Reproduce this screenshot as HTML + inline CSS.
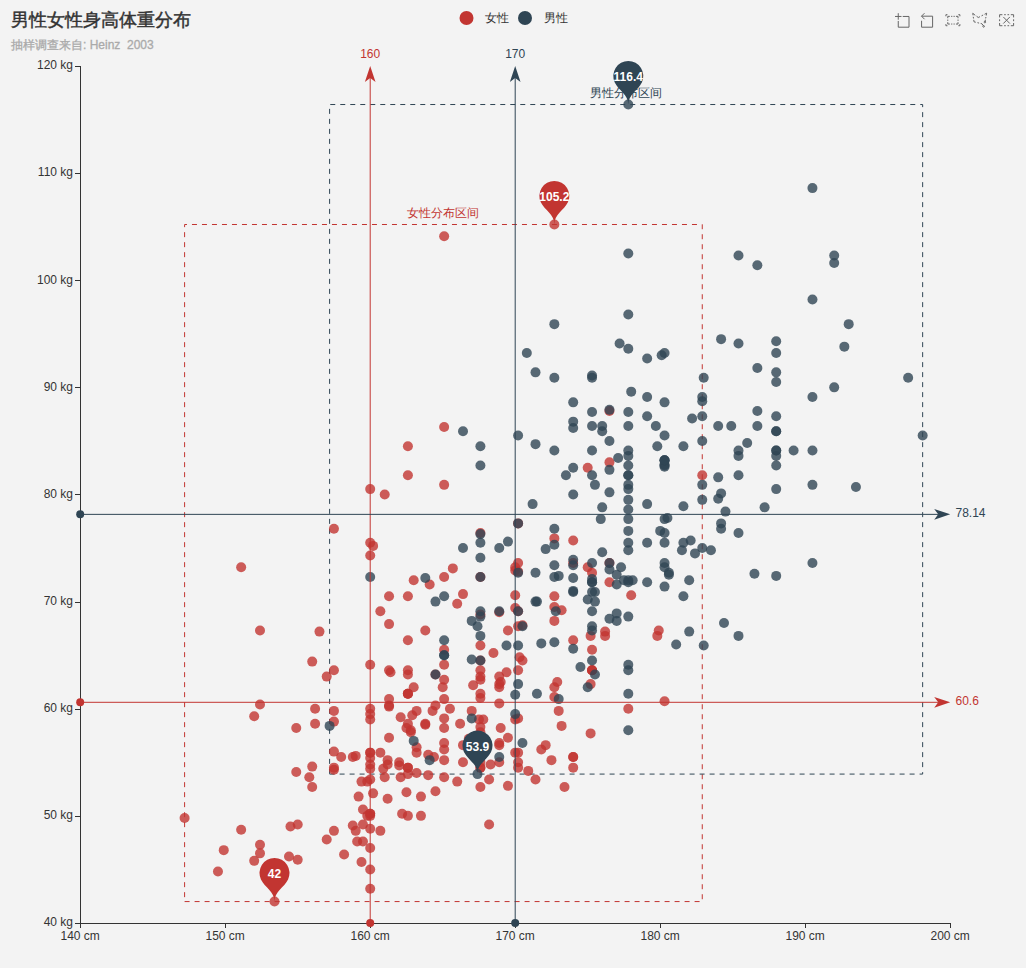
<!DOCTYPE html>
<html><head><meta charset="utf-8"><style>
html,body{margin:0;padding:0;background:#f3f3f3;}
body{width:1026px;height:968px;overflow:hidden;position:relative;font-family:"Liberation Sans", sans-serif;}
svg{position:absolute;left:0;top:0;}
</style></head><body>
<svg width="1026" height="968" viewBox="0 0 1026 968" font-family='"Liberation Sans", sans-serif'>
<text x="11" y="26" font-size="18" fill="#333" stroke="#333" stroke-width="0.45">男性女性身高体重分布</text>
<text x="11" y="49" font-size="12" fill="#aaa" stroke="#aaa" stroke-width="0.3">抽样调查来自: Heinz&#160; 2003</text>
<circle cx="466.5" cy="18" r="7" fill="#c23531"/>
<text x="485" y="21.5" font-size="12" fill="#333">女性</text>
<circle cx="525" cy="18" r="7" fill="#2f4554"/>
<text x="544" y="21.5" font-size="12" fill="#333">男性</text>
<path d="M184.6,901.57 L702.25,901.57 L702.25,224.51 L184.6,224.51 Z" fill="none" stroke="#c23531" stroke-width="1" stroke-dasharray="5 5"/>
<text x="443.42" y="216.51" text-anchor="middle" fill="#c23531" font-size="12">女性分布区间</text>
<path d="M329.6,774.09 L922.65,774.09 L922.65,104.53 L329.6,104.53 Z" fill="none" stroke="#2f4554" stroke-width="1" stroke-dasharray="5 5"/>
<text x="626.12" y="96.53" text-anchor="middle" fill="#2f4554" font-size="12">男性分布区间</text>
<g stroke="#333" stroke-width="1" fill="none">
<path d="M80.5,66 V924 M80,923.5 H951"/>
<path d="M75,923.5 H80.5"/>
<path d="M75,816.5 H80.5"/>
<path d="M75,709.5 H80.5"/>
<path d="M75,602.5 H80.5"/>
<path d="M75,494.5 H80.5"/>
<path d="M75,387.5 H80.5"/>
<path d="M75,280.5 H80.5"/>
<path d="M75,173.5 H80.5"/>
<path d="M75,66.5 H80.5"/>
<path d="M80.5,923.5 V928"/>
<path d="M225.5,923.5 V928"/>
<path d="M370.5,923.5 V928"/>
<path d="M515.5,923.5 V928"/>
<path d="M660.5,923.5 V928"/>
<path d="M805.5,923.5 V928"/>
<path d="M950.5,923.5 V928"/>
</g>
<g fill="#333" font-size="12">
<text x="73" y="926.4" text-anchor="end">40 kg</text>
<text x="73" y="819.27" text-anchor="end">50 kg</text>
<text x="73" y="712.14" text-anchor="end">60 kg</text>
<text x="73" y="605.01" text-anchor="end">70 kg</text>
<text x="73" y="497.88" text-anchor="end">80 kg</text>
<text x="73" y="390.75" text-anchor="end">90 kg</text>
<text x="73" y="283.62" text-anchor="end">100 kg</text>
<text x="73" y="176.49" text-anchor="end">110 kg</text>
<text x="73" y="69.36" text-anchor="end">120 kg</text>
<text x="80.2" y="940" text-anchor="middle">140 cm</text>
<text x="225.2" y="940" text-anchor="middle">150 cm</text>
<text x="370.2" y="940" text-anchor="middle">160 cm</text>
<text x="515.2" y="940" text-anchor="middle">170 cm</text>
<text x="660.2" y="940" text-anchor="middle">180 cm</text>
<text x="805.2" y="940" text-anchor="middle">190 cm</text>
<text x="950.2" y="940" text-anchor="middle">200 cm</text>
</g>
<g fill="#c23531" fill-opacity="0.8">
<circle cx="387.6" cy="798.73" r="5"/>
<circle cx="478.95" cy="719.45" r="5"/>
<circle cx="362.95" cy="824.44" r="5"/>
<circle cx="326.7" cy="676.6" r="5"/>
<circle cx="309.3" cy="777.3" r="5"/>
<circle cx="515.2" cy="719.45" r="5"/>
<circle cx="357.15" cy="841.58" r="5"/>
<circle cx="457.2" cy="603.75" r="5"/>
<circle cx="605.1" cy="635.89" r="5"/>
<circle cx="373.1" cy="545.9" r="5"/>
<circle cx="551.45" cy="760.16" r="5"/>
<circle cx="528.25" cy="770.88" r="5"/>
<circle cx="557.25" cy="681.96" r="5"/>
<circle cx="274.5" cy="901.57" r="5"/>
<circle cx="370.2" cy="815.87" r="5"/>
<circle cx="184.6" cy="818.01" r="5"/>
<circle cx="489.1" cy="824.44" r="5"/>
<circle cx="587.7" cy="567.33" r="5"/>
<circle cx="326.7" cy="839.44" r="5"/>
<circle cx="480.4" cy="614.47" r="5"/>
<circle cx="362.95" cy="809.44" r="5"/>
<circle cx="587.7" cy="467.7" r="5"/>
<circle cx="468.8" cy="738.74" r="5"/>
<circle cx="609.45" cy="410.92" r="5"/>
<circle cx="518.1" cy="571.61" r="5"/>
<circle cx="573.2" cy="767.66" r="5"/>
<circle cx="558.7" cy="710.88" r="5"/>
<circle cx="658.75" cy="630.54" r="5"/>
<circle cx="522.45" cy="625.18" r="5"/>
<circle cx="370.2" cy="848.01" r="5"/>
<circle cx="289" cy="856.58" r="5"/>
<circle cx="399.2" cy="762.31" r="5"/>
<circle cx="609.45" cy="462.34" r="5"/>
<circle cx="370.2" cy="768.73" r="5"/>
<circle cx="254.2" cy="860.86" r="5"/>
<circle cx="400.65" cy="777.3" r="5"/>
<circle cx="515.2" cy="567.33" r="5"/>
<circle cx="373.1" cy="793.37" r="5"/>
<circle cx="389.05" cy="624.11" r="5"/>
<circle cx="463" cy="745.16" r="5"/>
<circle cx="499.25" cy="684.1" r="5"/>
<circle cx="425.3" cy="724.81" r="5"/>
<circle cx="480.4" cy="767.66" r="5"/>
<circle cx="370.2" cy="813.73" r="5"/>
<circle cx="389.05" cy="705.53" r="5"/>
<circle cx="480.4" cy="726.95" r="5"/>
<circle cx="444.15" cy="749.45" r="5"/>
<circle cx="370.2" cy="813.73" r="5"/>
<circle cx="515.2" cy="570.54" r="5"/>
<circle cx="333.95" cy="710.88" r="5"/>
<circle cx="480.4" cy="698.03" r="5"/>
<circle cx="380.35" cy="611.25" r="5"/>
<circle cx="416.6" cy="752.66" r="5"/>
<circle cx="260" cy="853.37" r="5"/>
<circle cx="333.95" cy="769.8" r="5"/>
<circle cx="490.55" cy="764.45" r="5"/>
<circle cx="664.55" cy="701.24" r="5"/>
<circle cx="449.95" cy="708.74" r="5"/>
<circle cx="442.7" cy="687.31" r="5"/>
<circle cx="435.45" cy="705.53" r="5"/>
<circle cx="312.2" cy="786.94" r="5"/>
<circle cx="370.2" cy="555.54" r="5"/>
<circle cx="413.7" cy="687.31" r="5"/>
<circle cx="452.85" cy="568.4" r="5"/>
<circle cx="384.7" cy="494.48" r="5"/>
<circle cx="399.2" cy="765.52" r="5"/>
<circle cx="457.2" cy="781.59" r="5"/>
<circle cx="573.2" cy="540.55" r="5"/>
<circle cx="554.35" cy="696.96" r="5"/>
<circle cx="480.4" cy="754.81" r="5"/>
<circle cx="241.15" cy="829.8" r="5"/>
<circle cx="435.45" cy="791.23" r="5"/>
<circle cx="420.95" cy="815.87" r="5"/>
<circle cx="254.2" cy="716.24" r="5"/>
<circle cx="500.7" cy="681.96" r="5"/>
<circle cx="428.2" cy="754.81" r="5"/>
<circle cx="387.6" cy="764.45" r="5"/>
<circle cx="297.7" cy="859.79" r="5"/>
<circle cx="515.2" cy="595.18" r="5"/>
<circle cx="605.1" cy="631.61" r="5"/>
<circle cx="515.2" cy="608.04" r="5"/>
<circle cx="406.45" cy="728.02" r="5"/>
<circle cx="519.55" cy="657.32" r="5"/>
<circle cx="429.65" cy="584.47" r="5"/>
<circle cx="507.95" cy="785.87" r="5"/>
<circle cx="416.6" cy="710.88" r="5"/>
<circle cx="290.45" cy="826.58" r="5"/>
<circle cx="367.3" cy="815.87" r="5"/>
<circle cx="561.6" cy="610.18" r="5"/>
<circle cx="515.2" cy="752.66" r="5"/>
<circle cx="390.5" cy="672.32" r="5"/>
<circle cx="500.7" cy="728.02" r="5"/>
<circle cx="460.1" cy="723.74" r="5"/>
<circle cx="361.5" cy="861.94" r="5"/>
<circle cx="406.45" cy="792.3" r="5"/>
<circle cx="355.7" cy="830.87" r="5"/>
<circle cx="410.8" cy="732.31" r="5"/>
<circle cx="355.7" cy="755.88" r="5"/>
<circle cx="657.3" cy="635.89" r="5"/>
<circle cx="412.25" cy="715.17" r="5"/>
<circle cx="384.7" cy="777.3" r="5"/>
<circle cx="241.15" cy="567.33" r="5"/>
<circle cx="489.1" cy="779.45" r="5"/>
<circle cx="499.25" cy="612.32" r="5"/>
<circle cx="561.6" cy="725.88" r="5"/>
<circle cx="541.3" cy="749.45" r="5"/>
<circle cx="631.2" cy="595.18" r="5"/>
<circle cx="432.55" cy="710.88" r="5"/>
<circle cx="413.7" cy="580.18" r="5"/>
<circle cx="493.45" cy="653.03" r="5"/>
<circle cx="468.8" cy="745.16" r="5"/>
<circle cx="554.35" cy="224.51" r="5"/>
<circle cx="420.95" cy="796.59" r="5"/>
<circle cx="506.5" cy="672.32" r="5"/>
<circle cx="483.3" cy="719.45" r="5"/>
<circle cx="362.95" cy="841.58" r="5"/>
<circle cx="480.4" cy="676.6" r="5"/>
<circle cx="387.6" cy="760.16" r="5"/>
<circle cx="370.2" cy="869.43" r="5"/>
<circle cx="416.6" cy="773.02" r="5"/>
<circle cx="402.1" cy="813.73" r="5"/>
<circle cx="389.05" cy="706.6" r="5"/>
<circle cx="217.95" cy="871.58" r="5"/>
<circle cx="333.95" cy="721.6" r="5"/>
<circle cx="416.6" cy="747.31" r="5"/>
<circle cx="554.35" cy="687.31" r="5"/>
<circle cx="297.7" cy="824.44" r="5"/>
<circle cx="319.45" cy="631.61" r="5"/>
<circle cx="428.2" cy="775.16" r="5"/>
<circle cx="383.25" cy="768.73" r="5"/>
<circle cx="410.8" cy="730.17" r="5"/>
<circle cx="471.7" cy="710.88" r="5"/>
<circle cx="370.2" cy="764.45" r="5"/>
<circle cx="370.2" cy="888.72" r="5"/>
<circle cx="499.25" cy="703.38" r="5"/>
<circle cx="344.1" cy="854.44" r="5"/>
<circle cx="312.2" cy="661.6" r="5"/>
<circle cx="370.2" cy="828.73" r="5"/>
<circle cx="473.15" cy="685.17" r="5"/>
<circle cx="341.2" cy="756.95" r="5"/>
<circle cx="480.4" cy="732.31" r="5"/>
<circle cx="312.2" cy="766.59" r="5"/>
<circle cx="400.65" cy="717.31" r="5"/>
<circle cx="564.5" cy="786.94" r="5"/>
<circle cx="367.3" cy="781.59" r="5"/>
<circle cx="522.45" cy="660.53" r="5"/>
<circle cx="358.6" cy="796.59" r="5"/>
<circle cx="333.95" cy="751.59" r="5"/>
<circle cx="389.05" cy="670.17" r="5"/>
<circle cx="407.9" cy="674.46" r="5"/>
<circle cx="370.2" cy="714.1" r="5"/>
<circle cx="499.25" cy="743.02" r="5"/>
<circle cx="444.15" cy="664.82" r="5"/>
<circle cx="407.9" cy="815.87" r="5"/>
<circle cx="444.15" cy="576.97" r="5"/>
<circle cx="463" cy="762.31" r="5"/>
<circle cx="370.2" cy="752.66" r="5"/>
<circle cx="260" cy="704.45" r="5"/>
<circle cx="518.1" cy="611.25" r="5"/>
<circle cx="407.9" cy="446.27" r="5"/>
<circle cx="518.1" cy="752.66" r="5"/>
<circle cx="352.8" cy="756.95" r="5"/>
<circle cx="554.35" cy="606.97" r="5"/>
<circle cx="480.4" cy="533.05" r="5"/>
<circle cx="407.9" cy="693.74" r="5"/>
<circle cx="480.4" cy="645.53" r="5"/>
<circle cx="315.1" cy="723.74" r="5"/>
<circle cx="590.6" cy="635.89" r="5"/>
<circle cx="545.65" cy="745.16" r="5"/>
<circle cx="407.9" cy="723.74" r="5"/>
<circle cx="370.2" cy="752.66" r="5"/>
<circle cx="444.15" cy="718.38" r="5"/>
<circle cx="702.25" cy="475.2" r="5"/>
<circle cx="463" cy="594.11" r="5"/>
<circle cx="444.15" cy="743.02" r="5"/>
<circle cx="628.3" cy="708.74" r="5"/>
<circle cx="444.15" cy="728.02" r="5"/>
<circle cx="592.05" cy="572.68" r="5"/>
<circle cx="296.25" cy="771.95" r="5"/>
<circle cx="352.8" cy="825.51" r="5"/>
<circle cx="554.35" cy="538.4" r="5"/>
<circle cx="499.25" cy="762.31" r="5"/>
<circle cx="389.05" cy="737.67" r="5"/>
<circle cx="480.4" cy="762.31" r="5"/>
<circle cx="444.15" cy="649.82" r="5"/>
<circle cx="592.05" cy="649.82" r="5"/>
<circle cx="333.95" cy="830.87" r="5"/>
<circle cx="425.3" cy="723.74" r="5"/>
<circle cx="480.4" cy="670.17" r="5"/>
<circle cx="444.15" cy="760.16" r="5"/>
<circle cx="444.15" cy="679.81" r="5"/>
<circle cx="499.25" cy="745.16" r="5"/>
<circle cx="407.9" cy="774.09" r="5"/>
<circle cx="435.45" cy="674.46" r="5"/>
<circle cx="609.45" cy="563.04" r="5"/>
<circle cx="499.25" cy="687.31" r="5"/>
<circle cx="592.05" cy="670.17" r="5"/>
<circle cx="361.5" cy="781.59" r="5"/>
<circle cx="370.2" cy="779.45" r="5"/>
<circle cx="518.1" cy="762.31" r="5"/>
<circle cx="407.9" cy="596.25" r="5"/>
<circle cx="480.4" cy="767.66" r="5"/>
<circle cx="407.9" cy="767.66" r="5"/>
<circle cx="380.35" cy="752.66" r="5"/>
<circle cx="370.2" cy="719.45" r="5"/>
<circle cx="333.95" cy="670.17" r="5"/>
<circle cx="407.9" cy="767.66" r="5"/>
<circle cx="260" cy="844.8" r="5"/>
<circle cx="518.1" cy="626.25" r="5"/>
<circle cx="444.15" cy="484.84" r="5"/>
<circle cx="554.35" cy="596.25" r="5"/>
<circle cx="444.15" cy="699.1" r="5"/>
<circle cx="518.1" cy="670.17" r="5"/>
<circle cx="518.1" cy="767.66" r="5"/>
<circle cx="518.1" cy="718.38" r="5"/>
<circle cx="389.05" cy="596.25" r="5"/>
<circle cx="480.4" cy="786.94" r="5"/>
<circle cx="480.4" cy="679.81" r="5"/>
<circle cx="444.15" cy="426.99" r="5"/>
<circle cx="407.9" cy="640.18" r="5"/>
<circle cx="260" cy="630.54" r="5"/>
<circle cx="499.25" cy="676.6" r="5"/>
<circle cx="518.1" cy="563.04" r="5"/>
<circle cx="590.6" cy="684.1" r="5"/>
<circle cx="590.6" cy="733.38" r="5"/>
<circle cx="370.2" cy="758.02" r="5"/>
<circle cx="444.15" cy="236.3" r="5"/>
<circle cx="573.2" cy="756.95" r="5"/>
<circle cx="518.1" cy="523.41" r="5"/>
<circle cx="370.2" cy="489.12" r="5"/>
<circle cx="480.4" cy="660.53" r="5"/>
<circle cx="480.4" cy="576.97" r="5"/>
<circle cx="480.4" cy="693.74" r="5"/>
<circle cx="296.25" cy="728.02" r="5"/>
<circle cx="407.9" cy="475.2" r="5"/>
<circle cx="592.05" cy="670.17" r="5"/>
<circle cx="535.5" cy="779.45" r="5"/>
<circle cx="333.95" cy="767.66" r="5"/>
<circle cx="444.15" cy="777.3" r="5"/>
<circle cx="370.2" cy="708.74" r="5"/>
<circle cx="573.2" cy="563.04" r="5"/>
<circle cx="407.9" cy="693.74" r="5"/>
<circle cx="573.2" cy="756.95" r="5"/>
<circle cx="407.9" cy="670.17" r="5"/>
<circle cx="389.05" cy="699.1" r="5"/>
<circle cx="315.1" cy="708.74" r="5"/>
<circle cx="223.75" cy="850.15" r="5"/>
<circle cx="507.95" cy="737.67" r="5"/>
<circle cx="370.2" cy="664.82" r="5"/>
<circle cx="592.05" cy="670.17" r="5"/>
<circle cx="507.95" cy="630.54" r="5"/>
<circle cx="370.2" cy="542.69" r="5"/>
<circle cx="554.35" cy="620.89" r="5"/>
<circle cx="407.9" cy="693.74" r="5"/>
<circle cx="333.95" cy="528.76" r="5"/>
<circle cx="609.45" cy="582.33" r="5"/>
<circle cx="434" cy="756.95" r="5"/>
<circle cx="380.35" cy="830.87" r="5"/>
<circle cx="573.2" cy="640.18" r="5"/>
<circle cx="425.3" cy="630.54" r="5"/>
</g>
<g fill="#2f4554" fill-opacity="0.8">
<circle cx="573.2" cy="648.75" r="5"/>
<circle cx="592.05" cy="582.33" r="5"/>
<circle cx="855.95" cy="486.98" r="5"/>
<circle cx="754.45" cy="573.76" r="5"/>
<circle cx="764.6" cy="507.34" r="5"/>
<circle cx="681.95" cy="550.19" r="5"/>
<circle cx="718.2" cy="425.92" r="5"/>
<circle cx="725.45" cy="511.62" r="5"/>
<circle cx="587.7" cy="687.31" r="5"/>
<circle cx="718.2" cy="477.34" r="5"/>
<circle cx="660.2" cy="530.9" r="5"/>
<circle cx="628.3" cy="455.91" r="5"/>
<circle cx="834.2" cy="387.35" r="5"/>
<circle cx="602.2" cy="552.33" r="5"/>
<circle cx="573.2" cy="590.9" r="5"/>
<circle cx="718.2" cy="498.77" r="5"/>
<circle cx="844.35" cy="346.64" r="5"/>
<circle cx="536.95" cy="601.61" r="5"/>
<circle cx="558.7" cy="575.9" r="5"/>
<circle cx="602.2" cy="431.27" r="5"/>
<circle cx="602.2" cy="507.34" r="5"/>
<circle cx="667.45" cy="518.05" r="5"/>
<circle cx="554.35" cy="642.32" r="5"/>
<circle cx="602.2" cy="425.92" r="5"/>
<circle cx="565.95" cy="475.2" r="5"/>
<circle cx="631.2" cy="391.64" r="5"/>
<circle cx="664.55" cy="464.48" r="5"/>
<circle cx="664.55" cy="533.05" r="5"/>
<circle cx="435.45" cy="674.46" r="5"/>
<circle cx="558.7" cy="699.1" r="5"/>
<circle cx="710.95" cy="550.19" r="5"/>
<circle cx="594.95" cy="601.61" r="5"/>
<circle cx="776.2" cy="575.9" r="5"/>
<circle cx="793.6" cy="450.56" r="5"/>
<circle cx="555.8" cy="611.25" r="5"/>
<circle cx="515.2" cy="714.1" r="5"/>
<circle cx="689.2" cy="631.61" r="5"/>
<circle cx="515.2" cy="694.81" r="5"/>
<circle cx="628.3" cy="616.61" r="5"/>
<circle cx="721.1" cy="493.41" r="5"/>
<circle cx="757.35" cy="410.92" r="5"/>
<circle cx="535.5" cy="444.13" r="5"/>
<circle cx="554.35" cy="565.19" r="5"/>
<circle cx="592.05" cy="579.11" r="5"/>
<circle cx="664.55" cy="466.63" r="5"/>
<circle cx="702.25" cy="401.28" r="5"/>
<circle cx="776.2" cy="450.56" r="5"/>
<circle cx="619.6" cy="343.43" r="5"/>
<circle cx="545.65" cy="549.12" r="5"/>
<circle cx="471.7" cy="718.38" r="5"/>
<circle cx="507.95" cy="541.62" r="5"/>
<circle cx="573.2" cy="428.06" r="5"/>
<circle cx="554.35" cy="544.83" r="5"/>
<circle cx="692.1" cy="418.42" r="5"/>
<circle cx="429.65" cy="760.16" r="5"/>
<circle cx="413.7" cy="740.88" r="5"/>
<circle cx="536.95" cy="693.74" r="5"/>
<circle cx="721.1" cy="528.76" r="5"/>
<circle cx="573.2" cy="421.63" r="5"/>
<circle cx="573.2" cy="578.04" r="5"/>
<circle cx="616.7" cy="584.47" r="5"/>
<circle cx="747.2" cy="443.06" r="5"/>
<circle cx="471.7" cy="620.89" r="5"/>
<circle cx="541.3" cy="643.39" r="5"/>
<circle cx="689.2" cy="580.18" r="5"/>
<circle cx="471.7" cy="659.46" r="5"/>
<circle cx="628.3" cy="550.19" r="5"/>
<circle cx="435.45" cy="601.61" r="5"/>
<circle cx="834.2" cy="263.08" r="5"/>
<circle cx="594.95" cy="674.46" r="5"/>
<circle cx="532.6" cy="504.12" r="5"/>
<circle cx="683.4" cy="506.26" r="5"/>
<circle cx="477.5" cy="626.25" r="5"/>
<circle cx="676.15" cy="644.46" r="5"/>
<circle cx="616.7" cy="620.89" r="5"/>
<circle cx="580.45" cy="666.96" r="5"/>
<circle cx="623.95" cy="580.18" r="5"/>
<circle cx="522.45" cy="743.02" r="5"/>
<circle cx="695" cy="553.4" r="5"/>
<circle cx="908.15" cy="377.71" r="5"/>
<circle cx="661.65" cy="355.21" r="5"/>
<circle cx="594.95" cy="484.84" r="5"/>
<circle cx="668.9" cy="572.68" r="5"/>
<circle cx="724" cy="623.04" r="5"/>
<circle cx="594.95" cy="591.97" r="5"/>
<circle cx="668.9" cy="574.83" r="5"/>
<circle cx="616.7" cy="574.83" r="5"/>
<circle cx="618.15" cy="458.06" r="5"/>
<circle cx="683.4" cy="542.69" r="5"/>
<circle cx="609.45" cy="569.47" r="5"/>
<circle cx="587.7" cy="599.47" r="5"/>
<circle cx="573.2" cy="565.19" r="5"/>
<circle cx="444.15" cy="596.25" r="5"/>
<circle cx="616.7" cy="613.39" r="5"/>
<circle cx="834.2" cy="255.58" r="5"/>
<circle cx="609.45" cy="618.75" r="5"/>
<circle cx="506.5" cy="645.53" r="5"/>
<circle cx="690.65" cy="540.55" r="5"/>
<circle cx="657.3" cy="446.27" r="5"/>
<circle cx="592.05" cy="411.99" r="5"/>
<circle cx="731.25" cy="425.92" r="5"/>
<circle cx="621.05" cy="567.33" r="5"/>
<circle cx="477.5" cy="774.09" r="5"/>
<circle cx="632.65" cy="580.18" r="5"/>
<circle cx="499.25" cy="756.95" r="5"/>
<circle cx="329.6" cy="725.88" r="5"/>
<circle cx="664.55" cy="460.2" r="5"/>
<circle cx="518.1" cy="572.68" r="5"/>
<circle cx="628.3" cy="664.82" r="5"/>
<circle cx="554.35" cy="576.97" r="5"/>
<circle cx="444.15" cy="655.17" r="5"/>
<circle cx="757.35" cy="425.92" r="5"/>
<circle cx="444.15" cy="655.17" r="5"/>
<circle cx="573.2" cy="402.35" r="5"/>
<circle cx="592.05" cy="450.56" r="5"/>
<circle cx="738.5" cy="635.89" r="5"/>
<circle cx="628.3" cy="542.69" r="5"/>
<circle cx="664.55" cy="353.07" r="5"/>
<circle cx="664.55" cy="465.55" r="5"/>
<circle cx="628.3" cy="730.17" r="5"/>
<circle cx="628.3" cy="499.84" r="5"/>
<circle cx="628.3" cy="509.48" r="5"/>
<circle cx="628.3" cy="582.33" r="5"/>
<circle cx="628.3" cy="104.53" r="5"/>
<circle cx="425.3" cy="578.04" r="5"/>
<circle cx="776.2" cy="455.91" r="5"/>
<circle cx="922.65" cy="435.56" r="5"/>
<circle cx="592.05" cy="377.71" r="5"/>
<circle cx="463" cy="431.27" r="5"/>
<circle cx="812.45" cy="396.99" r="5"/>
<circle cx="463" cy="548.05" r="5"/>
<circle cx="628.3" cy="519.12" r="5"/>
<circle cx="655.85" cy="425.92" r="5"/>
<circle cx="554.35" cy="377.71" r="5"/>
<circle cx="812.45" cy="563.04" r="5"/>
<circle cx="738.5" cy="533.05" r="5"/>
<circle cx="499.25" cy="611.25" r="5"/>
<circle cx="480.4" cy="446.27" r="5"/>
<circle cx="592.05" cy="660.53" r="5"/>
<circle cx="518.1" cy="611.25" r="5"/>
<circle cx="812.45" cy="188.09" r="5"/>
<circle cx="628.3" cy="425.92" r="5"/>
<circle cx="812.45" cy="484.84" r="5"/>
<circle cx="628.3" cy="411.99" r="5"/>
<circle cx="721.1" cy="339.14" r="5"/>
<circle cx="609.45" cy="492.34" r="5"/>
<circle cx="628.3" cy="580.18" r="5"/>
<circle cx="664.55" cy="586.61" r="5"/>
<circle cx="535.5" cy="572.68" r="5"/>
<circle cx="554.35" cy="450.56" r="5"/>
<circle cx="554.35" cy="528.76" r="5"/>
<circle cx="628.3" cy="670.17" r="5"/>
<circle cx="628.3" cy="484.84" r="5"/>
<circle cx="702.25" cy="484.84" r="5"/>
<circle cx="518.1" cy="435.56" r="5"/>
<circle cx="480.4" cy="616.61" r="5"/>
<circle cx="592.05" cy="626.25" r="5"/>
<circle cx="444.15" cy="640.18" r="5"/>
<circle cx="738.5" cy="255.58" r="5"/>
<circle cx="683.4" cy="596.25" r="5"/>
<circle cx="554.35" cy="324.14" r="5"/>
<circle cx="812.45" cy="450.56" r="5"/>
<circle cx="647.15" cy="416.28" r="5"/>
<circle cx="592.05" cy="582.33" r="5"/>
<circle cx="518.1" cy="645.53" r="5"/>
<circle cx="848.7" cy="324.14" r="5"/>
<circle cx="535.5" cy="372.35" r="5"/>
<circle cx="628.3" cy="475.2" r="5"/>
<circle cx="628.3" cy="314.5" r="5"/>
<circle cx="480.4" cy="611.25" r="5"/>
<circle cx="480.4" cy="465.55" r="5"/>
<circle cx="664.55" cy="542.69" r="5"/>
<circle cx="702.25" cy="499.84" r="5"/>
<circle cx="609.45" cy="563.04" r="5"/>
<circle cx="757.35" cy="368.07" r="5"/>
<circle cx="776.2" cy="450.56" r="5"/>
<circle cx="776.2" cy="431.27" r="5"/>
<circle cx="628.3" cy="475.2" r="5"/>
<circle cx="573.2" cy="467.7" r="5"/>
<circle cx="628.3" cy="489.12" r="5"/>
<circle cx="535.5" cy="601.61" r="5"/>
<circle cx="738.5" cy="475.2" r="5"/>
<circle cx="738.5" cy="450.56" r="5"/>
<circle cx="776.2" cy="381.99" r="5"/>
<circle cx="776.2" cy="372.35" r="5"/>
<circle cx="702.25" cy="396.99" r="5"/>
<circle cx="609.45" cy="440.92" r="5"/>
<circle cx="592.05" cy="611.25" r="5"/>
<circle cx="592.05" cy="563.04" r="5"/>
<circle cx="776.2" cy="489.12" r="5"/>
<circle cx="776.2" cy="465.55" r="5"/>
<circle cx="592.05" cy="425.92" r="5"/>
<circle cx="522.45" cy="626.25" r="5"/>
<circle cx="647.15" cy="358.42" r="5"/>
<circle cx="628.3" cy="348.78" r="5"/>
<circle cx="592.05" cy="591.97" r="5"/>
<circle cx="702.25" cy="548.05" r="5"/>
<circle cx="526.8" cy="353.07" r="5"/>
<circle cx="776.2" cy="353.07" r="5"/>
<circle cx="664.55" cy="519.12" r="5"/>
<circle cx="628.3" cy="693.74" r="5"/>
<circle cx="738.5" cy="343.43" r="5"/>
<circle cx="499.25" cy="548.05" r="5"/>
<circle cx="738.5" cy="455.91" r="5"/>
<circle cx="664.55" cy="435.56" r="5"/>
<circle cx="573.2" cy="559.83" r="5"/>
<circle cx="480.4" cy="635.89" r="5"/>
<circle cx="702.25" cy="416.28" r="5"/>
<circle cx="370.2" cy="576.97" r="5"/>
<circle cx="664.55" cy="402.35" r="5"/>
<circle cx="480.4" cy="542.69" r="5"/>
<circle cx="757.35" cy="265.22" r="5"/>
<circle cx="592.05" cy="375.57" r="5"/>
<circle cx="592.05" cy="630.54" r="5"/>
<circle cx="600.75" cy="519.12" r="5"/>
<circle cx="592.05" cy="475.2" r="5"/>
<circle cx="647.15" cy="542.69" r="5"/>
<circle cx="683.4" cy="446.27" r="5"/>
<circle cx="628.3" cy="530.9" r="5"/>
<circle cx="702.25" cy="440.92" r="5"/>
<circle cx="628.3" cy="253.44" r="5"/>
<circle cx="721.1" cy="523.41" r="5"/>
<circle cx="647.15" cy="582.33" r="5"/>
<circle cx="609.45" cy="409.85" r="5"/>
<circle cx="776.2" cy="341.28" r="5"/>
<circle cx="573.2" cy="591.97" r="5"/>
<circle cx="480.4" cy="660.53" r="5"/>
<circle cx="518.1" cy="523.41" r="5"/>
<circle cx="480.4" cy="576.97" r="5"/>
<circle cx="776.2" cy="416.28" r="5"/>
<circle cx="573.2" cy="494.48" r="5"/>
<circle cx="609.45" cy="469.84" r="5"/>
<circle cx="664.55" cy="563.04" r="5"/>
<circle cx="480.4" cy="557.69" r="5"/>
<circle cx="776.2" cy="431.27" r="5"/>
<circle cx="664.55" cy="567.33" r="5"/>
<circle cx="480.4" cy="534.12" r="5"/>
<circle cx="703.7" cy="645.53" r="5"/>
<circle cx="703.7" cy="377.71" r="5"/>
<circle cx="647.15" cy="396.99" r="5"/>
<circle cx="518.1" cy="684.1" r="5"/>
<circle cx="628.3" cy="465.55" r="5"/>
<circle cx="647.15" cy="504.12" r="5"/>
<circle cx="812.45" cy="299.5" r="5"/>
<circle cx="628.3" cy="450.56" r="5"/>
<circle cx="664.55" cy="460.2" r="5"/>
<circle cx="664.55" cy="460.2" r="5"/>
</g>
<g stroke="#c23531" stroke-width="1"><path d="M80.2,702.31 H938.2 M370.2,923 V77.96"/></g>
<g fill="#c23531"><circle cx="80.2" cy="702.31" r="4"/><circle cx="370.2" cy="923" r="4"/>
<path d="M950.2,702.31 L934.2,696.98 L938.2,702.31 L934.2,707.64 Z"/><path d="M370.2,65.96 L375.53,81.96 L370.2,77.96 L364.87,81.96 Z"/></g>
<text x="955.5" y="704.91" fill="#c23531" font-size="12">60.6</text>
<text x="370.2" y="58" text-anchor="middle" fill="#c23531" font-size="12">160</text>
<g stroke="#2f4554" stroke-width="1"><path d="M80.2,514.36 H938.2 M515.2,923 V77.96"/></g>
<g fill="#2f4554"><circle cx="80.2" cy="514.36" r="4"/><circle cx="515.2" cy="923" r="4"/>
<path d="M950.2,514.36 L934.2,509.02 L938.2,514.36 L934.2,519.69 Z"/><path d="M515.2,65.96 L520.53,81.96 L515.2,77.96 L509.87,81.96 Z"/></g>
<text x="955.5" y="516.96" fill="#2f4554" font-size="12">78.14</text>
<text x="515.2" y="58" text-anchor="middle" fill="#2f4554" font-size="12">170</text>
<path d="M540.8,202.37 A15,15 0 1 1 567.9,202.37 C564.05,210.5 554.35,214.01 554.35,224.51 C554.35,214.01 544.65,210.5 540.8,202.37 Z" fill="#c23531"/>
<text x="554.35" y="201.14" text-anchor="middle" fill="#fff" font-size="12" font-weight="bold">105.2</text>
<path d="M260.95,879.43 A15,15 0 1 1 288.05,879.43 C284.2,887.56 274.5,891.07 274.5,901.57 C274.5,891.07 264.8,887.56 260.95,879.43 Z" fill="#c23531"/>
<text x="274.5" y="878.2" text-anchor="middle" fill="#fff" font-size="12" font-weight="bold">42</text>
<path d="M614.75,82.38 A15,15 0 1 1 641.85,82.38 C638,90.52 628.3,94.03 628.3,104.53 C628.3,94.03 618.6,90.52 614.75,82.38 Z" fill="#2f4554"/>
<text x="628.3" y="81.16" text-anchor="middle" fill="#fff" font-size="12" font-weight="bold">116.4</text>
<path d="M463.95,751.95 A15,15 0 1 1 491.05,751.95 C487.2,760.08 477.5,763.59 477.5,774.09 C477.5,763.59 467.8,760.08 463.95,751.95 Z" fill="#2f4554"/>
<text x="477.5" y="750.72" text-anchor="middle" fill="#fff" font-size="12" font-weight="bold">53.9</text>
<g transform="translate(895.000,13.200) scale(0.24138)"><path d="M0,13.5h26.9 M13.5,26.9V0 M32.1,13.5H58V58H13.5 V32.1" fill="none" stroke="#666" stroke-width="1" vector-effect="non-scaling-stroke"/></g>
<g transform="translate(919.050,12.854) scale(0.24691)"><path d="M22,1.4L9.9,13.5l12.3,12.3 M10.3,13.5H54.9v44.6 H10.3v-26" fill="none" stroke="#666" stroke-width="1" vector-effect="non-scaling-stroke"/></g>
<g transform="translate(945.837,14.707) scale(0.15695)"><path d="M7.3,34.7 M0.4,10V-0.2h9.8 M89.6,10V-0.2h-9.8 M0.4,60v10.2h9.8 M89.6,60v10.2h-9.8 M12.3,22.4V10.5h13.1 M33.6,10.5h7.8 M49.1,10.5h7.8 M77.5,22.4V10.5h-13 M12.3,31.1v8.2 M77.7,31.1v8.2 M12.3,47.6v11.9h13.1 M33.6,59.5h7.6 M49.1,59.5 h7.7 M77.5,47.6v11.9h-13" fill="none" stroke="#666" stroke-width="1" vector-effect="non-scaling-stroke"/></g>
<g transform="translate(970.162,11.918) scale(0.26718)"><path d="M55.2,34.9c1.7,0,3.1,1.4,3.1,3.1s-1.4,3.1-3.1,3.1 s-3.1-1.4-3.1-3.1S53.5,34.9,55.2,34.9z M50.4,51c1.7,0,3.1,1.4,3.1,3.1c0,1.7-1.4,3.1-3.1,3.1c-1.7,0-3.1-1.4-3.1-3.1 C47.3,52.4,48.7,51,50.4,51z M55.6,37.1l1.5-7.8 M60.1,13.5l1.6-8.7l-7.8,4 M59,19l-1,5.3 M24,16.1l6.4,4.9l6.4-3.3 M48.5,11.6 l-5.9,3.1 M19.1,12.8L9.7,5.1l1.1,7.7 M13.4,29.8l1,7.3l6.6,1.6 M11.6,18.4l1,6.1 M32.8,41.9 M26.6,40.4 M27.3,40.2l6.1,1.6 M49.9,52.1l-5.6-7.6l-4.9-1.2" fill="none" stroke="#666" stroke-width="1" vector-effect="non-scaling-stroke"/></g>
<g transform="translate(998.597,13.798) scale(0.21341)"><path d="M22,14.7l30.9,31 M52.9,14.7L22,45.7 M4.7,16.8V4.2h13.1 M26,4.2h7.8 M41.6,4.2h7.8 M70.3,16.8V4.2H57.2 M4.7,25.9v8.6 M70.3,25.9v8.6 M4.7,43.2v12.6h13.1 M26,55.8h7.8 M41.6,55.8h7.8 M70.3,43.2v12.6H57.2" fill="none" stroke="#666" stroke-width="1" vector-effect="non-scaling-stroke"/></g>
</svg>
</body></html>
